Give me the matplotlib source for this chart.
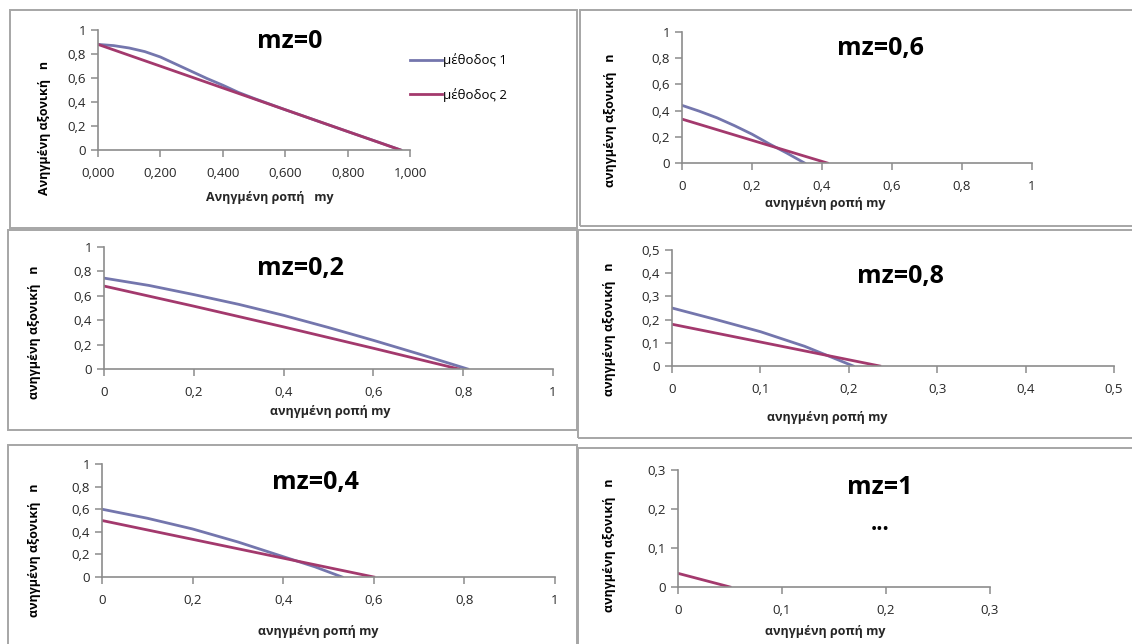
import matplotlib
matplotlib.use("Agg")
import matplotlib.pyplot as plt
from matplotlib.patches import Rectangle
from matplotlib.ticker import FixedLocator, FuncFormatter

plt.rcParams['font.family'] = ['Open Sans', 'DejaVu Sans']

W, H = 1132, 644

# interaction curves n - my for each mz (method 1 / method 2)
my_mz0_m1 = [0.0, 0.05, 0.10, 0.15, 0.20, 0.25, 0.30, 0.35, 0.40, 0.45, 0.50, 0.60, 0.70, 0.80, 0.90, 0.97]
n_mz0_m1 = [0.88, 0.87, 0.85, 0.82, 0.775, 0.715, 0.655, 0.595, 0.54, 0.48, 0.43, 0.336, 0.245, 0.154, 0.064, 0.0]
my_mz0_m2 = [0.0, 0.97]
n_mz0_m2 = [0.88, 0.0]

my_mz02_m1 = [0.0, 0.1, 0.2, 0.3, 0.4, 0.5, 0.6, 0.7, 0.81]
n_mz02_m1 = [0.745, 0.685, 0.61, 0.53, 0.44, 0.34, 0.235, 0.125, 0.0]
my_mz02_m2 = [0.0, 0.2, 0.4, 0.6, 0.79]
n_mz02_m2 = [0.68, 0.515, 0.345, 0.17, 0.0]

my_mz04_m1 = [0.0, 0.1, 0.2, 0.3, 0.4, 0.47, 0.53]
n_mz04_m1 = [0.60, 0.52, 0.425, 0.31, 0.18, 0.09, 0.0]
my_mz04_m2 = [0.0, 0.6]
n_mz04_m2 = [0.50, 0.0]

my_mz06_m1 = [0.0, 0.05, 0.1, 0.15, 0.2, 0.25, 0.3, 0.35]
n_mz06_m1 = [0.44, 0.395, 0.345, 0.285, 0.22, 0.145, 0.075, 0.0]
my_mz06_m2 = [0.0, 0.415]
n_mz06_m2 = [0.335, 0.0]

my_mz08_m1 = [0.0, 0.05, 0.1, 0.15, 0.205]
n_mz08_m1 = [0.25, 0.2, 0.148, 0.085, 0.0]
my_mz08_m2 = [0.0, 0.235]
n_mz08_m2 = [0.18, 0.0]

my_mz1_m2 = [0.0, 0.05]
n_mz1_m2 = [0.035, 0.0]

c1 = '#7476AD'
c2 = '#A3396D'
grey = '#8C8C8C'

fig = plt.figure(figsize=(W / 100, H / 100), dpi=100)


def frame(x0, y0, x1, y1):
    fig.patches.append(Rectangle((x0 / W, 1 - y1 / H), (x1 - x0) / W, (y1 - y0) / H,
                                 transform=fig.transFigure, fill=False,
                                 edgecolor='#A6A6A6', linewidth=1.4))


def comma(fmt):
    return FuncFormatter(lambda v, p: fmt.format(v).replace('.', ','))


def panel(x0, x1, ytop, ybot, xmax, ymax, step_x, step_y, xfmt, yfmt):
    ax = fig.add_axes([x0 / W, 1 - ybot / H, (x1 - x0) / W, (ybot - ytop) / H])
    ax.set_xlim(0, xmax)
    ax.set_ylim(0, ymax)
    nx = int(round(xmax / step_x))
    ny = int(round(ymax / step_y))
    ax.xaxis.set_major_locator(FixedLocator([i * step_x for i in range(nx + 1)]))
    ax.yaxis.set_major_locator(FixedLocator([i * step_y for i in range(ny + 1)]))
    ax.xaxis.set_major_formatter(comma(xfmt))
    ax.yaxis.set_major_formatter(comma(yfmt))
    for s in ['top', 'right']:
        ax.spines[s].set_visible(False)
    for s in ['left', 'bottom']:
        ax.spines[s].set_color(grey)
        ax.spines[s].set_linewidth(1.2)
    ax.tick_params(colors=grey, labelcolor='#262626', labelsize=9.5, length=5, width=1.1)
    ax.tick_params(axis='x', pad=7)
    ax.patch.set_visible(False)
    return ax


def txt(x, y, s, **kw):
    fig.text(x / W, 1 - y / H, s, ha='center', va='center', **kw)


# panel borders
frame(10, 10, 577, 228)
frame(580, 10, 1140, 226)
frame(8, 230, 577, 430)
frame(578, 230, 1140, 438)
frame(8, 445, 577, 652)
frame(578, 448, 1140, 652)

lw = 2.0
tsize = 18

# mz = 0
ax = panel(98, 410, 30, 150, 1.0, 1.0, 0.2, 0.2, '{:.3f}', '{:g}')
ax.plot(my_mz0_m1, n_mz0_m1, color=c1, lw=lw, label='μέθοδος 1')
ax.plot(my_mz0_m2, n_mz0_m2, color=c2, lw=lw, label='μέθοδος 2')
fig.legend(*ax.get_legend_handles_labels(), loc='upper left',
           bbox_to_anchor=(405 / W, 1 - 48 / H), frameon=False, fontsize=9.5,
           handlelength=2.4, handletextpad=0.1, labelspacing=1.6, borderaxespad=0)
txt(290, 42, 'mz=0', fontsize=tsize, fontweight='bold')
txt(45, 128, 'Ανηγμένη αξονική   n', rotation=90, fontsize=9, fontweight='bold')
txt(270, 198, 'Ανηγμένη ροπή   my', fontsize=9, fontweight='bold', color='#262626')

# mz = 0.6
ax = panel(682, 1032, 32, 163, 1.0, 1.0, 0.2, 0.2, '{:g}', '{:g}')
ax.plot(my_mz06_m1, n_mz06_m1, color=c1, lw=lw)
ax.plot(my_mz06_m2, n_mz06_m2, color=c2, lw=lw)
txt(880, 48, 'mz=0,6', fontsize=tsize, fontweight='bold')
txt(611, 120, 'ανηγμένη αξονική   n', rotation=90, fontsize=9, fontweight='bold')
txt(825, 203, 'ανηγμένη ροπή my', fontsize=9, fontweight='bold', color='#262626')

# mz = 0.2
ax = panel(104, 553, 247, 369, 1.0, 1.0, 0.2, 0.2, '{:g}', '{:g}')
ax.plot(my_mz02_m1, n_mz02_m1, color=c1, lw=lw)
ax.plot(my_mz02_m2, n_mz02_m2, color=c2, lw=lw)
txt(300, 268, 'mz=0,2', fontsize=tsize, fontweight='bold')
txt(35, 332, 'ανηγμένη αξονική   n', rotation=90, fontsize=9, fontweight='bold')
txt(330, 412, 'ανηγμένη ροπή my', fontsize=9, fontweight='bold', color='#262626')

# mz = 0.8
ax = panel(672, 1114, 250, 366, 0.5, 0.5, 0.1, 0.1, '{:g}', '{:g}')
ax.plot(my_mz08_m1, n_mz08_m1, color=c1, lw=lw)
ax.plot(my_mz08_m2, n_mz08_m2, color=c2, lw=lw)
txt(900, 276, 'mz=0,8', fontsize=tsize, fontweight='bold')
txt(609, 329, 'ανηγμένη αξονική   n', rotation=90, fontsize=9, fontweight='bold')
txt(827, 418, 'ανηγμένη ροπή my', fontsize=9, fontweight='bold', color='#262626')

# mz = 0.4
ax = panel(102, 555, 464, 577, 1.0, 1.0, 0.2, 0.2, '{:g}', '{:g}')
ax.plot(my_mz04_m1, n_mz04_m1, color=c1, lw=lw)
ax.plot(my_mz04_m2, n_mz04_m2, color=c2, lw=lw)
txt(315, 482, 'mz=0,4', fontsize=tsize, fontweight='bold')
txt(35, 550, 'ανηγμένη αξονική   n', rotation=90, fontsize=9, fontweight='bold')
txt(318, 632, 'ανηγμένη ροπή my', fontsize=9, fontweight='bold', color='#262626')

# mz = 1
ax = panel(678, 990, 470, 587, 0.3, 0.3, 0.1, 0.1, '{:g}', '{:g}')
ax.plot(my_mz1_m2, n_mz1_m2, color=c2, lw=lw)
txt(880, 487, 'mz=1', fontsize=tsize, fontweight='bold')
txt(880, 525, '...', fontsize=16, fontweight='bold')
txt(609, 545, 'ανηγμένη αξονική   n', rotation=90, fontsize=9, fontweight='bold')
txt(825, 632, 'ανηγμένη ροπή my', fontsize=9, fontweight='bold', color='#262626')

fig.savefig('out.png', dpi=100, facecolor='white')
